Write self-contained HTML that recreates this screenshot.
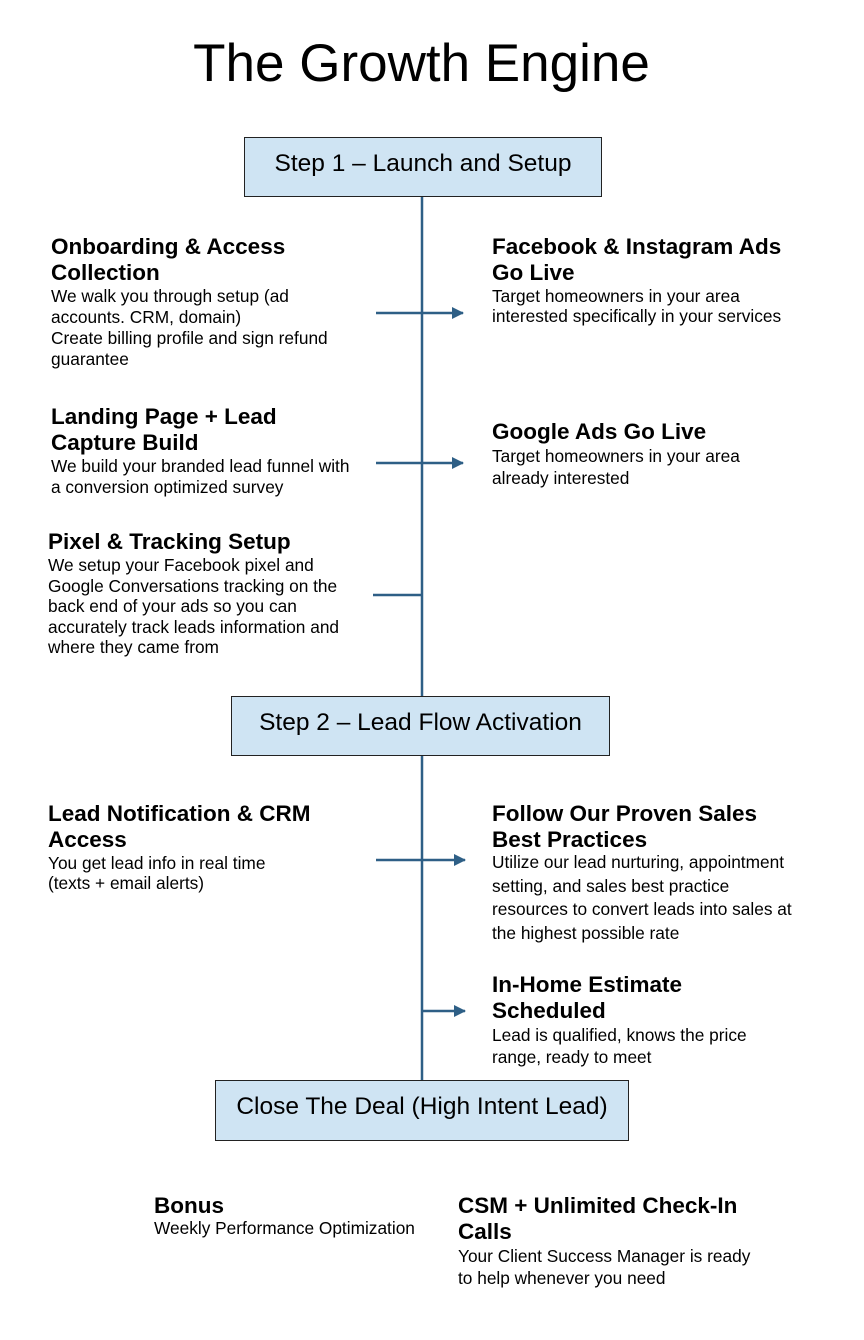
<!DOCTYPE html>
<html><head><style>
body{margin:0;background:#fff;width:864px;height:1340px;position:relative;font-family:"Liberation Sans",Arial,sans-serif;color:#000;overflow:hidden}
.t{position:absolute}
h1{position:absolute;margin:0;left:0;width:843px;text-align:center;top:33px;font-size:53px;font-weight:normal}
.box{position:absolute;background:#cfe4f3;border:1.5px solid #222;box-sizing:border-box;text-align:center;font-size:24.5px;display:flex;align-items:center;justify-content:center;padding-bottom:7px}
.h{font-weight:bold;font-size:22.5px;line-height:26px;white-space:nowrap}
.b{font-size:17.3px;line-height:22px;white-space:nowrap}
</style></head><body>
<h1>The Growth Engine</h1>
<svg class="t" style="left:0;top:0" width="864" height="1340">
<defs><marker id="a" markerWidth="12" markerHeight="12" refX="11" refY="6" orient="auto" markerUnits="userSpaceOnUse"><path d="M0,0 L12,6 L0,12z" fill="#2e5f86"/></marker></defs>
<g stroke="#2e5f86" stroke-width="2.5" fill="none">
<line x1="422" y1="197" x2="422" y2="1080"/>
<line x1="376" y1="313" x2="463" y2="313" marker-end="url(#a)"/>
<line x1="376" y1="463" x2="463" y2="463" marker-end="url(#a)"/>
<line x1="373" y1="595" x2="422" y2="595"/>
<line x1="376" y1="860" x2="465" y2="860" marker-end="url(#a)"/>
<line x1="422" y1="1011" x2="465" y2="1011" marker-end="url(#a)"/>
</g></svg>
<div class="box" style="left:244px;top:137px;width:358px;height:60px">Step 1 – Launch and Setup</div>
<div class="box" style="left:231px;top:696px;width:379px;height:60px">Step 2 – Lead Flow Activation</div>
<div class="box" style="left:215px;top:1080px;width:414px;height:61px">Close The Deal (High Intent Lead)</div>

<div class="t" style="left:51px;top:234px;width:320px"><div class="h">Onboarding &amp; Access<br>Collection</div><div class="b" style="line-height:21px">We walk you through setup (ad<br>accounts. CRM, domain)<br>Create billing profile and sign refund<br>guarantee</div></div>
<div class="t" style="left:492px;top:234px;width:340px"><div class="h">Facebook &amp; Instagram Ads<br>Go Live</div><div class="b" style="line-height:20px">Target homeowners in your area<br>interested specifically in your services</div></div>
<div class="t" style="left:51px;top:404px;width:320px"><div class="h">Landing Page + Lead<br>Capture Build</div><div class="b" style="line-height:21px">We build your branded lead funnel with<br>a conversion optimized survey</div></div>
<div class="t" style="left:492px;top:419px;width:340px"><div class="h">Google Ads Go Live</div><div class="b">Target homeowners in your area<br>already interested</div></div>
<div class="t" style="left:48px;top:529px;width:320px"><div class="h">Pixel &amp; Tracking Setup</div><div class="b" style="line-height:20.5px">We setup your Facebook pixel and<br>Google Conversations tracking on the<br>back end of your ads so you can<br>accurately track leads information and<br>where they came from</div></div>
<div class="t" style="left:48px;top:801px;width:320px"><div class="h">Lead Notification &amp; CRM<br>Access</div><div class="b" style="line-height:20px">You get lead info in real time<br>(texts + email alerts)</div></div>
<div class="t" style="left:492px;top:801px;width:340px"><div class="h">Follow Our Proven Sales<br>Best Practices</div><div class="b" style="line-height:23.5px;margin-top:-2px">Utilize our lead nurturing, appointment<br>setting, and sales best practice<br>resources to convert leads into sales at<br>the highest possible rate</div></div>
<div class="t" style="left:492px;top:972px;width:340px"><div class="h">In-Home Estimate<br>Scheduled</div><div class="b">Lead is qualified, knows the price<br>range, ready to meet</div></div>
<div class="t" style="left:154px;top:1193px;width:290px"><div class="h">Bonus</div><div class="b" style="line-height:18px">Weekly Performance Optimization</div></div>
<div class="t" style="left:458px;top:1193px;width:340px"><div class="h">CSM + Unlimited Check-In<br>Calls</div><div class="b">Your Client Success Manager is ready<br>to help whenever you need</div></div>
</body></html>
